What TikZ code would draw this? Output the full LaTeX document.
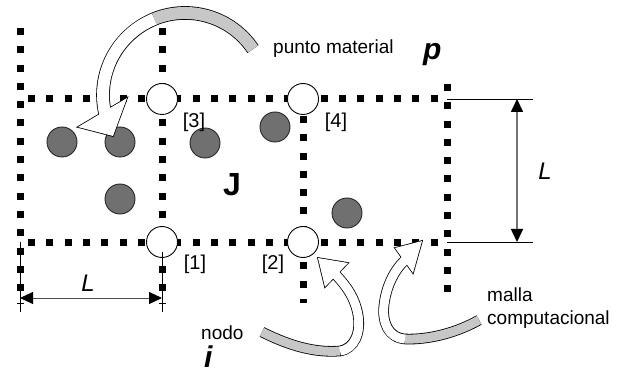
\documentclass[tikz,border=0pt]{standalone}
\usepackage{fontspec}
\setmainfont{Liberation Sans}
\usetikzlibrary{arrows.meta}
\tikzset{
  gridline/.style={line width=7pt, dash pattern=on 7pt off 11.3pt},
  meshnode/.style={circle, draw=black, fill=white, line width=0.9pt, minimum size=31pt, inner sep=0pt},
  particle/.style={circle, draw=black!85, fill=black!56, line width=0.9pt, minimum size=30pt, inner sep=0pt},
  txt/.style={inner sep=0pt, font=\fontsize{19}{23}\selectfont},
  idx/.style={inner sep=0pt, font=\fontsize{20}{24}\selectfont},
  bigsym/.style={inner sep=0pt, font=\fontsize{30}{34}\selectfont\bfseries\itshape},
  dimsym/.style={inner sep=0pt, font=\fontsize{24}{28}\selectfont\itshape},
  extline/.style={line width=0.8pt},
  tipT/.tip={Triangle[length=13pt,width=12pt,color=black]},
}
\newcommand{\fatarrow}[5]{%
  \draw[line width=#5, shorten <=-0.8pt] #1 #2;
  \draw[line width=1.6pt, line join=miter] #3 -- cycle;
  \draw[line width=#4, draw=black!22] #1;
  \draw[line width=#4, draw=white] #2;
  \fill[white] #3 -- cycle;
}
\begin{document}
\begin{tikzpicture}[x=1pt,y=-1pt]
\useasboundingbox (0,0) rectangle (621,374);
% grid coordinates
\coordinate (gTL) at (20,28);
\coordinate (gBL) at (20,303);
\coordinate (gT2) at (162,28);
\coordinate (gB2) at (162,303);
\coordinate (gT3) at (303,116);
\coordinate (gB3) at (303,303);
\coordinate (gT4) at (447,84);
\coordinate (gB4) at (447,303);
\coordinate (hTL) at (28,99);
\coordinate (hTR) at (447,99);
\coordinate (hBL) at (28,242);
\coordinate (hBR) at (447,242);
% dotted mesh
\draw[gridline] (gTL) -- (gBL);
\draw[gridline] (gT2) -- (gB2);
\draw[gridline] (gT3) -- (gB3);
\draw[gridline] (gT4) -- (gB4);
\draw[gridline] (hTL) -- (hTR);
\draw[gridline] (hBL) -- (hBR);
% material points
\node[particle] (pa) at (62,142) {};
\node[particle] (pb) at (120,142) {};
\node[particle] (pc) at (205,143) {};
\node[particle] (pd) at (275,127) {};
\node[particle] (pe) at (120,199) {};
\node[particle] (pf) at (347,213) {};
% mesh nodes
\node[meshnode] (n3) at (162,99) {};
\node[meshnode] (n4) at (303,99) {};
\node[meshnode] (n1) at (162,242) {};
\node[meshnode] (n2) at (303,242) {};
\node[idx] (l3) at (194,122) {[3]};
\node[idx] (l4) at (336,122) {[4]};
\node[idx] (l1) at (195,264) {[1]};
\node[idx] (l2) at (273,264) {[2]};
\node[inner sep=0pt, font=\fontsize{32}{36}\selectfont\bfseries] (J) at (232,185) {J};
% right dimension
\coordinate (rT0) at (447,99);
\coordinate (rT1) at (533,99);
\coordinate (rB0) at (447,242);
\coordinate (rB1) at (533,242);
\coordinate (rA0) at (517,99);
\coordinate (rA1) at (517,242);
\draw[extline] (rT0) -- (rT1);
\draw[extline] (rB0) -- (rB1);
\draw[line width=1.6pt, black!55, {tipT}-{tipT}] (rA0) -- (rA1);
\node[dimsym] (Lr) at (545,171) {L};
% bottom dimension
\coordinate (bL0) at (20,242);
\coordinate (bL1) at (20,312);
\coordinate (bR0) at (162,252);
\coordinate (bR1) at (162,312);
\coordinate (bA0) at (20,298);
\coordinate (bA1) at (162,298);
\draw[extline] (bL0) -- (bL1);
\draw[extline] (bR0) -- (bR1);
\draw[line width=1pt, black!70, {tipT}-{tipT}] (bA0) -- (bA1);
\node[dimsym] (Lb) at (88,283) {L};
% labels
\node[txt, anchor=base west] (pm) at (273,54) {punto material};
\node[bigsym, anchor=base west] (p) at (423,60) {p};
\node[txt, anchor=base west] (nodo) at (201,339) {nodo};
\node[bigsym, anchor=base west] (i) at (204,367) {i};
\node[txt, anchor=north west, align=left] (malla) at (487,288) {malla\\computacional};
% fat curved arrows
\fatarrow{(253.0,49.1) arc[start angle=-34, end angle=-112, radius=82]}
         {(154.3,19.0) arc[start angle=-112, end angle=-190, radius=82] -- (106,118)}
         {(78,127) -- (113,136) -- (127,98)}{12pt}{13.6pt}
\fatarrow{(262,332) .. controls (290,346) and (315,353) .. (340,351)}
         {(340,351) .. controls (355,349) and (361,332) .. (358,315) .. controls (355,298) and (347,287) .. (337,276) -- (333,272)}
         {(348,263) -- (318,258) -- (325,287)}{9pt}{10.6pt}
\fatarrow{(479,320) .. controls (458,332) and (430,340) .. (405,339)}
         {(405,339) .. controls (388,338) and (382,322) .. (384,305) .. controls (386,288) and (393,272) .. (404,261) -- (408,256)}
         {(395,248) -- (422,241) -- (413,273)}{9pt}{10.6pt}
\end{tikzpicture}
\end{document}
